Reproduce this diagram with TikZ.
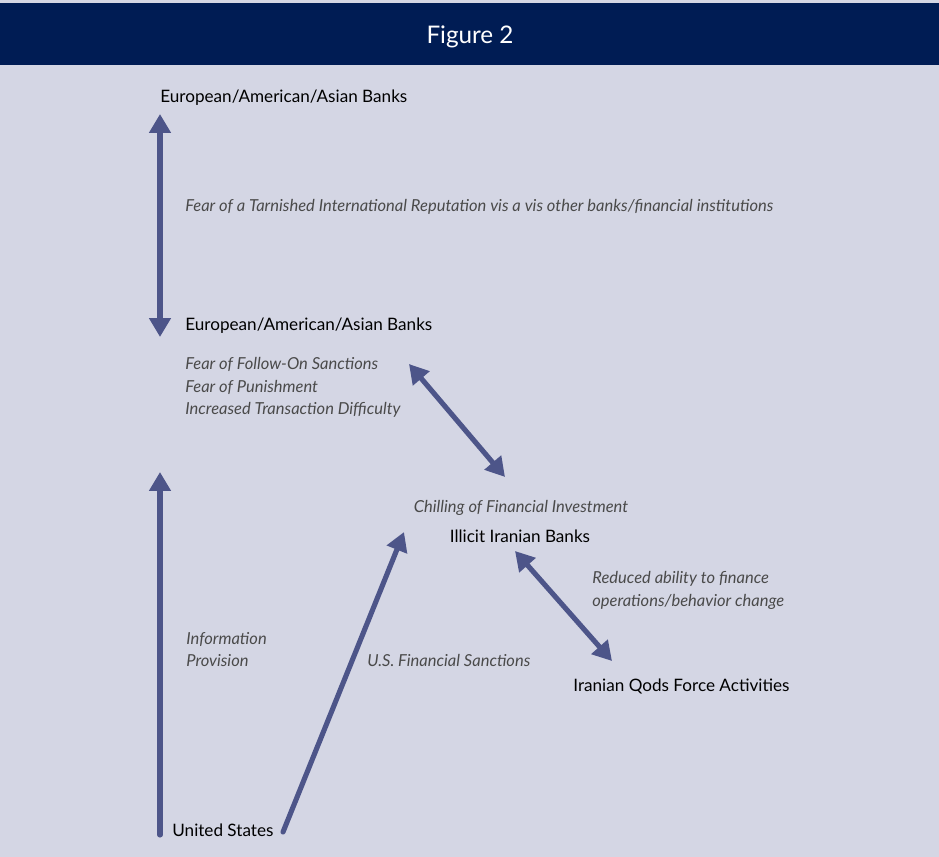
\documentclass[tikz,border=0pt]{standalone}
\usepackage{fontspec}
\setmainfont{Lato}
\usetikzlibrary{arrows.meta}

\definecolor{barblue}{HTML}{001C54}
\definecolor{paper}{HTML}{D4D6E4}
\definecolor{arrowblue}{HTML}{4D5589}
\definecolor{notegray}{HTML}{4A4A4A}

\begin{document}
\begin{tikzpicture}[x=0.02cm, y=-0.02cm, line cap=round, line join=round,
  >={Triangle[length=0.38cm, width=0.42cm]},
  flow/.style={line width=2.9pt, draw=arrowblue},
  actor/.style={inner sep=0pt, anchor=west, font=\fontsize{9.75}{11}\selectfont},
  note/.style={inner sep=0pt, anchor=west, text=notegray, align=left,
    font=\fontsize{9.4}{12.8}\selectfont\itshape}]
  % Page and title bar
  \fill[paper] (0,0) rectangle (939,857);
  \useasboundingbox (0,0) rectangle (939,857);
  \fill[barblue] (0,3) rectangle (939,65);
  \node[text=white, font=\fontsize{13.8}{15}\selectfont] (title) at (470,37) {Figure 2};

  % Actors
  \node[actor] (banksTop) at (160,98) {European/American/Asian Banks};
  \node[actor] (banksMid) at (185,326) {European/American/Asian Banks};
  \node[actor, anchor=center] (illicit) at (520,536) {Illicit Iranian Banks};
  \node[actor] (qods) at (573,686) {Iranian Qods Force Activities};
  \node[actor] (us) at (172,830) {United States};

  % Notes
  \node[note] (reputation) at (185,207) {Fear of a Tarnished International Reputation vis a vis other banks/financial institutions};
  \node[note, anchor=north west] (fears) at (185,357) {Fear of Follow-On Sanctions\\Fear of Punishment\\Increased Transaction Difficulty};
  \node[note, anchor=center] (chilling) at (521,508) {Chilling of Financial Investment};
  \node[note, anchor=north west] (reduced) at (592,571) {Reduced ability to finance\\operations/behavior change};
  \node[note, anchor=north west] (info) at (186,632) {Information\\Provision};
  \node[note] (sanctions) at (367,660) {U.S. Financial Sanctions};

  % Arrow ends
  \coordinate (topUp) at (160,114);
  \coordinate (topDown) at (160,337);
  \coordinate (midA) at (409,364);
  \coordinate (midB) at (505,477);
  \coordinate (lowA) at (515,551);
  \coordinate (lowB) at (612,661);
  \coordinate (usLeft) at (160,835);
  \coordinate (infoTip) at (160,472);
  \coordinate (usRight) at (283,832);
  \coordinate (sancTip) at (404,532);

  % Arrows
  \draw[flow, <->] (topUp) -- (topDown);
  \draw[flow, <->] (midA) -- (midB);
  \draw[flow, <->] (lowA) -- (lowB);
  \draw[flow, ->] (usLeft) -- (infoTip);
  \draw[flow, ->] (usRight) -- (sancTip);
\end{tikzpicture}
\end{document}
